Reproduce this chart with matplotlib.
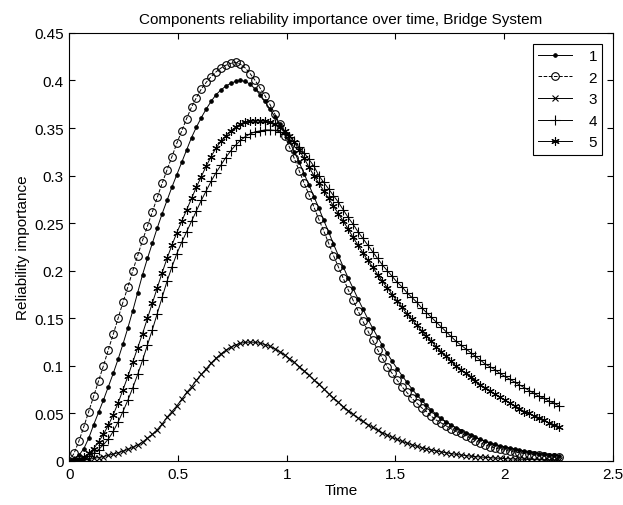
import matplotlib
matplotlib.use("Agg")
import matplotlib.pyplot as plt
import numpy as np

plt.rcParams['font.family'] = ['Liberation Sans', 'DejaVu Sans']

# sample times (101 equally spaced samples from 0 to 2.25)
time = np.linspace(0.0, 2.25, 101)

comp1 = [0, 0.002, 0.006, 0.013, 0.024, 0.038,
         0.051, 0.064, 0.078, 0.092, 0.107,
         0.123, 0.140, 0.158, 0.177, 0.196,
         0.213, 0.229, 0.245, 0.260, 0.274,
         0.288, 0.301, 0.314, 0.327, 0.340,
         0.351, 0.361, 0.370, 0.378, 0.385,
         0.390, 0.394, 0.397, 0.399, 0.400,
         0.399, 0.396, 0.391, 0.385, 0.378,
         0.370, 0.362, 0.354, 0.345, 0.336,
         0.325, 0.314, 0.302, 0.290, 0.278,
         0.266, 0.253, 0.241, 0.228, 0.216,
         0.204, 0.1925, 0.1815, 0.1705, 0.160,
         0.1495, 0.1397, 0.1304, 0.1215, 0.113,
         0.1048, 0.0971, 0.0898, 0.0828, 0.076,
         0.0697, 0.0639, 0.0586, 0.0536, 0.049,
         0.0448, 0.0411, 0.0378, 0.0348, 0.032,
         0.0294, 0.0271, 0.0249, 0.0229, 0.021,
         0.0192, 0.0176, 0.0161, 0.0147, 0.0135,
         0.0124, 0.0114, 0.0104, 0.0094, 0.0085,
         0.0078, 0.0071, 0.0065, 0.0059, 0.0053]

comp2 = [0, 0.008, 0.021, 0.036, 0.052, 0.068,
         0.084, 0.100, 0.117, 0.133, 0.150,
         0.167, 0.183, 0.200, 0.216, 0.232,
         0.247, 0.262, 0.277, 0.292, 0.306,
         0.320, 0.334, 0.347, 0.360, 0.372,
         0.382, 0.391, 0.398, 0.404, 0.409,
         0.413, 0.416, 0.418, 0.419, 0.417,
         0.413, 0.407, 0.400, 0.392, 0.384,
         0.375, 0.365, 0.354, 0.342, 0.330,
         0.318, 0.305, 0.292, 0.280, 0.267,
         0.254, 0.242, 0.229, 0.216, 0.204,
         0.192, 0.180, 0.169, 0.158, 0.147,
         0.137, 0.127, 0.117, 0.108, 0.099,
         0.092, 0.085, 0.078, 0.072, 0.066,
         0.061, 0.056, 0.052, 0.047, 0.043,
         0.040, 0.037, 0.034, 0.031, 0.029,
         0.0265, 0.024, 0.0215, 0.019, 0.017,
         0.0152, 0.0137, 0.0124, 0.0113, 0.0103,
         0.0094, 0.0086, 0.0078, 0.0071, 0.0065,
         0.0059, 0.0053, 0.0047, 0.0042, 0.0037]

comp3 = [0, 0.0001, 0.0004, 0.0009, 0.0017, 0.0027,
         0.0036, 0.0047, 0.0059, 0.0072, 0.0086,
         0.0103, 0.0122, 0.0143, 0.0168, 0.020,
         0.024, 0.028, 0.033, 0.039, 0.046,
         0.052, 0.058, 0.065, 0.072, 0.078,
         0.085, 0.091, 0.097, 0.103, 0.108,
         0.1125, 0.1165, 0.1195, 0.122, 0.1237,
         0.1247, 0.125, 0.1247, 0.1238, 0.1224,
         0.1205, 0.118, 0.115, 0.1115, 0.1077,
         0.1036, 0.0993, 0.0948, 0.0901, 0.0853,
         0.0805, 0.0757, 0.0709, 0.0662, 0.0616,
         0.0572, 0.053, 0.049, 0.0452, 0.0416,
         0.0383, 0.0352, 0.0323, 0.0296, 0.0271,
         0.0248, 0.0226, 0.0206, 0.0188, 0.0171,
         0.0155, 0.0141, 0.0128, 0.0116, 0.0105,
         0.0095, 0.0086, 0.0078, 0.007, 0.0063,
         0.0057, 0.0051, 0.0046, 0.0042, 0.0038,
         0.0034, 0.0031, 0.0028, 0.0025, 0.0023,
         0.0021, 0.0019, 0.0017, 0.0015, 0.0014,
         0.0013, 0.0012, 0.0011, 0.001, 0.0009]

comp4 = [0, 0.0003, 0.001, 0.0025, 0.005, 0.008,
         0.012, 0.017, 0.023, 0.031, 0.041,
         0.052, 0.064, 0.077, 0.091, 0.106,
         0.122, 0.138, 0.155, 0.172, 0.189,
         0.204, 0.218, 0.230, 0.241, 0.252,
         0.263, 0.274, 0.284, 0.294, 0.303,
         0.311, 0.319, 0.326, 0.332, 0.337,
         0.341, 0.344, 0.346, 0.347, 0.348,
         0.348, 0.3475, 0.346, 0.344, 0.341,
         0.336, 0.330, 0.324, 0.317, 0.310,
         0.300, 0.293, 0.286, 0.279, 0.272,
         0.264, 0.256, 0.249, 0.241, 0.234,
         0.227, 0.220, 0.213, 0.206, 0.200,
         0.194, 0.188, 0.183, 0.177, 0.172,
         0.167, 0.161, 0.156, 0.151, 0.146,
         0.141, 0.136, 0.131, 0.126, 0.122,
         0.118, 0.114, 0.110, 0.106, 0.102,
         0.099, 0.096, 0.092, 0.089, 0.086,
         0.083, 0.080, 0.077, 0.074, 0.071,
         0.068, 0.066, 0.063, 0.061, 0.058]

comp5 = [0, 0.0005, 0.002, 0.004, 0.008, 0.013,
         0.020, 0.028, 0.0375, 0.0485, 0.061,
         0.075, 0.089, 0.104, 0.119, 0.134,
         0.150, 0.166, 0.182, 0.198, 0.213,
         0.227, 0.240, 0.252, 0.264, 0.276,
         0.288, 0.299, 0.310, 0.320, 0.329,
         0.336, 0.342, 0.347, 0.351, 0.354,
         0.356, 0.357, 0.3575, 0.3575, 0.357,
         0.356, 0.354, 0.351, 0.347, 0.342,
         0.335, 0.327, 0.318, 0.309, 0.300,
         0.292, 0.284, 0.276, 0.268, 0.260,
         0.252, 0.244, 0.235, 0.227, 0.219,
         0.211, 0.204, 0.196, 0.189, 0.182,
         0.175, 0.168, 0.162, 0.155, 0.149,
         0.143, 0.137, 0.131, 0.126, 0.120,
         0.115, 0.110, 0.105, 0.100, 0.096,
         0.092, 0.088, 0.084, 0.080, 0.077,
         0.074, 0.070, 0.067, 0.064, 0.061,
         0.058, 0.055, 0.052, 0.050, 0.047,
         0.045, 0.043, 0.040, 0.038, 0.036]

series_labels = ['1', '2', '3', '4', '5']
xticks = [0, 0.5, 1, 1.5, 2, 2.5]
xtick_labels = ['0', '0.5', '1', '1.5', '2', '2.5']
yticks = [0, 0.05, 0.1, 0.15, 0.2, 0.25, 0.3, 0.35, 0.4, 0.45]
ytick_labels = ['0', '0.05', '0.1', '0.15', '0.2', '0.25', '0.3', '0.35', '0.4', '0.45']

fig = plt.figure(figsize=(6.23, 5.06), dpi=100)
ax = fig.add_axes([0.111, 0.087, 0.873, 0.846])

styles = [
    dict(linestyle='-', marker='.', markersize=5),
    dict(linestyle='--', marker='o', markersize=5.5, markerfacecolor='none'),
    dict(linestyle='-', marker='x', markersize=3.8),
    dict(linestyle='-', marker='+', markersize=6.5),
    dict(linestyle='-', marker=(6, 2, 0), markersize=6),
]
for ys, lab, st in zip([comp1, comp2, comp3, comp4, comp5], series_labels, styles):
    ax.plot(time, ys, color='black', linewidth=0.7, markeredgewidth=0.8,
            label=lab, **st)

ax.set_xlim(0, 2.5)
ax.set_ylim(0, 0.45)
ax.set_xticks(xticks)
ax.set_xticklabels(xtick_labels)
ax.set_yticks(yticks)
ax.set_yticklabels(ytick_labels)
ax.tick_params(direction='in', top=True, right=True, length=4, width=0.8,
               labelsize=11, pad=4)
for sp in ax.spines.values():
    sp.set_linewidth(0.8)

ax.set_title('Components reliability importance over time, Bridge System',
             fontsize=11, pad=7)
ax.set_xlabel('Time', fontsize=11, labelpad=2)
ax.set_ylabel('Reliability importance', fontsize=11, labelpad=3)

leg = ax.legend(loc='upper right', numpoints=1, fontsize=11, fancybox=False,
                framealpha=1, edgecolor='black', handlelength=2.2,
                labelspacing=0.5, borderaxespad=0.7, handletextpad=1.1,
                borderpad=0.35)
leg.get_frame().set_linewidth(0.8)

fig.savefig('out.png', dpi=100)
